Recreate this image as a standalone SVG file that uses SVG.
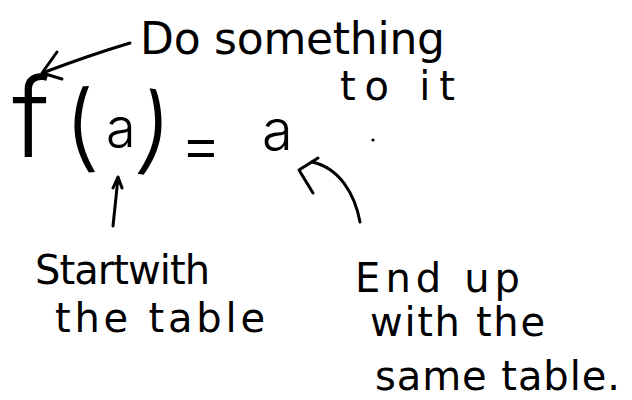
<svg xmlns="http://www.w3.org/2000/svg" width="632" height="400" viewBox="0 0 632 400">
<style>
.t{font-family:"DejaVu Sans","Liberation Sans",sans-serif;fill:#000;}
.big{font-family:Inter,"Liberation Sans",sans-serif;font-weight:300;fill:#000;}
.ln{fill:none;stroke:#000;stroke-width:3;stroke-linecap:round;stroke-linejoin:round;}
</style>
<rect width="632" height="400" fill="#fff"/>
<g id="formula">
<text class="big" x="12" y="157" font-size="110">f</text>
<text class="big" x="64" y="160" font-size="95" transform="rotate(-4 80 130)">(</text>
<text class="big" x="106" y="147" font-size="54">a</text>
<text class="big" x="138" y="163" font-size="95" transform="rotate(8 155 135)">)</text>
<text class="big" x="180" y="167" font-size="64">=</text>
<text class="big" x="262" y="150" font-size="56">a</text>
<circle cx="373" cy="140" r="1.6" fill="#000"/>
</g>
<g id="note-do">
<text class="t" x="140" y="54" font-size="44" textLength="305">Do something</text>
<text class="t" x="340" y="100" font-size="40" textLength="115">to it</text>
</g>
<g id="note-start">
<text class="t" x="35" y="284" font-size="40" textLength="175">Startwith</text>
<text class="t" x="55" y="332" font-size="40" textLength="210">the table</text>
</g>
<g id="note-end">
<text class="t" x="355" y="292" font-size="40" textLength="165">End up</text>
<text class="t" x="370" y="336" font-size="40" textLength="175">with the</text>
<text class="t" x="375" y="390" font-size="40" textLength="245">same table.</text>
</g>
<g id="connectors">
<path class="ln" d="M130,43 Q90,55 45,72"/>
<path class="ln" d="M57,52 L42,73 L62,79"/>
<path class="ln" d="M113,226 L118,178"/>
<path class="ln" d="M113,188 L118,177 L122,188"/>
<path class="ln" d="M360,222 C355,195 340,168 312,162"/>
<path class="ln" d="M318,158 L299,170 L313,193"/>
</g>
</svg>
